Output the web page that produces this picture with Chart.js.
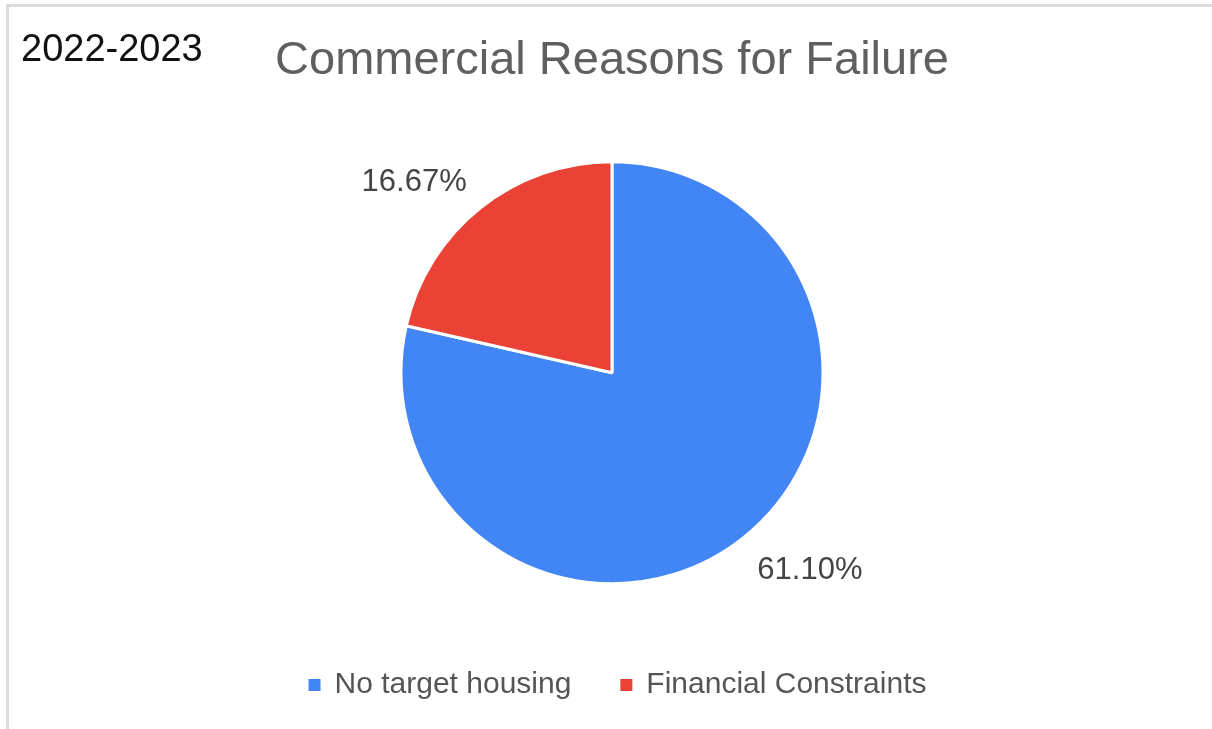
<!DOCTYPE html>
<html>
<head>
<meta charset="utf-8">
<title>Commercial Reasons for Failure</title>
<script src="https://cdn.jsdelivr.net/npm/chart.js"></script>
<style>
  html, body { margin: 0; padding: 0; background: #ffffff; }
  #frame {
    position: absolute; left: 6px; top: 4px; right: 0; bottom: 0;
    border-top: 3px solid #dcdcdc; border-left: 3px solid #dcdcdc;
  }
  #wrap { position: absolute; left: 0; top: 0; width: 1212px; height: 729px; }
</style>
</head>
<body>
<div id="frame"></div>
<div id="wrap"><canvas id="chart" width="1212" height="729"></canvas></div>
<script>
  "use strict";

  const PERIOD = "2022-2023";
  const TITLE = "Commercial Reasons for Failure";
  const categories = ["No target housing", "Financial Constraints"];
  const shares = [61.10, 16.67];
  const sliceColors = ["#4285f4", "#ea4335"];

  const FONT = "'Liberation Sans', Arial, sans-serif";

  // period text in the top-left corner
  const periodLabel = {
    id: "periodLabel",
    afterDraw(chart) {
      const ctx = chart.ctx;
      ctx.save();
      ctx.font = "38px " + FONT;
      ctx.fillStyle = "#111111";
      ctx.textAlign = "left";
      ctx.textBaseline = "alphabetic";
      ctx.fillText(PERIOD, 21, 61);
      ctx.restore();
    }
  };

  // nudge the legend row a little to the right of the pie centre
  const legendNudge = {
    id: "legendNudge",
    afterLayout(chart) {
      chart.legend.left += 6;
      chart.legend.right += 6;
    }
  };

  // percentage labels just outside each slice, anchored by a corner
  const sliceLabels = {
    id: "sliceLabels",
    afterDatasetsDraw(chart) {
      const ctx = chart.ctx;
      const meta = chart.getDatasetMeta(0);
      ctx.save();
      ctx.font = "31px " + FONT;
      ctx.fillStyle = "#444444";
      meta.data.forEach((arc, i) => {
        const p = arc.getProps(["x", "y", "startAngle", "endAngle", "outerRadius"], true);
        const mid = (p.startAngle + p.endAngle) / 2;
        const r = p.outerRadius + 22;
        const ax = p.x + Math.cos(mid) * r;
        const ay = p.y + Math.sin(mid) * r;
        ctx.textAlign = Math.cos(mid) >= 0 ? "left" : "right";
        ctx.textBaseline = Math.sin(mid) >= 0 ? "top" : "alphabetic";
        ctx.fillText(shares[i].toFixed(2) + "%", ax, ay);
      });
      ctx.restore();
    }
  };

  new Chart(document.getElementById("chart").getContext("2d"), {
    type: "pie",
    data: {
      labels: categories,
      datasets: [{
        data: shares,
        backgroundColor: sliceColors,
        borderColor: "#ffffff",
        borderWidth: 3
      }]
    },
    options: {
      responsive: false,
      animation: false,
      radius: 211,
      layout: { padding: { left: 12, right: 0, top: 0, bottom: 19 } },
      plugins: {
        title: {
          display: true,
          text: TITLE,
          color: "#5f5f5f",
          font: { family: FONT, size: 47, weight: "normal" },
          padding: { top: 33, bottom: 36 }
        },
        legend: {
          position: "bottom",
          labels: {
            usePointStyle: true,
            pointStyle: "rect",
            boxWidth: 10,
            boxHeight: 15,
            padding: 50,
            color: "#555555",
            font: { family: FONT, size: 30 }
          }
        },
        tooltip: { enabled: false }
      }
    },
    plugins: [periodLabel, legendNudge, sliceLabels]
  });
</script>
</body>
</html>
